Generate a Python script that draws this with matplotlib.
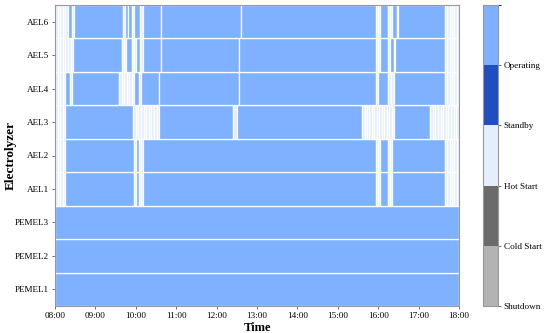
import matplotlib
matplotlib.use("Agg")
import matplotlib.pyplot as plt
from matplotlib.colors import ListedColormap, BoundaryNorm
from matplotlib.cm import ScalarMappable
import numpy as np

plt.rcParams['font.family'] = ['Liberation Serif', 'DejaVu Serif']

# States: 0 Shutdown, 1 Cold Start, 2 Hot Start, 3 Standby, 4 Operating
state_names = ["Shutdown", "Cold Start", "Hot Start", "Standby", "Operating"]
state_colors = ["#b3b3b3", "#6b6b6b", "#e3eeff", "#1f4fbf", "#7eb1ff"]

rows = ["PEMEL1", "PEMEL2", "PEMEL3", "AEL1", "AEL2", "AEL3", "AEL4", "AEL5", "AEL6"]
hour_ticks = ["08:00", "09:00", "10:00", "11:00", "12:00", "13:00", "14:00",
              "15:00", "16:00", "17:00", "18:00"]

# Segments per electrolyzer: (start minute after 08:00, end minute, state)
PEMEL1 = [(0, 600, 4)]
PEMEL2 = [(0, 600, 4)]
PEMEL3 = [(0, 600, 4)]
AEL1 = [(0, 15, 2), (15, 118, 4), (118, 121, 2), (121, 125, 4), (125, 131, 2),
        (131, 476, 4), (476, 483, 2), (483, 494, 4), (494, 500, 2), (500, 579, 4),
        (579, 600, 2)]
AEL2 = [(0, 15, 2), (15, 118, 4), (118, 121, 2), (121, 125, 4), (125, 131, 2),
        (131, 476, 4), (476, 483, 2), (483, 494, 4), (494, 500, 2), (500, 579, 4),
        (579, 600, 2)]
AEL3 = [(0, 15, 2), (15, 116, 4), (116, 155, 2), (155, 265, 4), (265, 270, 2),
        (270, 456, 4), (456, 504, 2), (504, 557, 4), (557, 600, 2)]
AEL4 = [(0, 15, 2), (15, 22, 4), (22, 25, 2), (25, 95, 4), (95, 118, 2),
        (118, 125, 4), (125, 127, 2), (127, 154, 4), (154, 274, 4), (274, 476, 4),
        (476, 479, 2), (479, 494, 4), (494, 503, 2), (503, 579, 4), (579, 600, 2)]
AEL5 = [(0, 27, 2), (27, 100, 4), (100, 106, 2), (106, 115, 4), (115, 121, 2),
        (121, 126, 4), (126, 130, 2), (130, 157, 4), (157, 274, 4), (274, 476, 4),
        (476, 483, 2), (483, 494, 4), (494, 497, 2), (497, 503, 4), (503, 505, 2),
        (505, 579, 4), (579, 600, 2)]
AEL6 = [(0, 19, 2), (19, 25, 4), (25, 28, 2), (28, 101, 4), (101, 104, 2),
        (104, 108, 4), (108, 114, 4), (114, 118, 2), (118, 126, 4), (126, 130, 2),
        (130, 157, 4), (157, 276, 4), (276, 476, 4), (476, 483, 2), (483, 494, 4),
        (494, 501, 2), (501, 508, 4), (508, 510, 2), (510, 579, 4), (579, 600, 2)]
segments = [PEMEL1, PEMEL2, PEMEL3, AEL1, AEL2, AEL3, AEL4, AEL5, AEL6]

fig = plt.figure(figsize=(5.5, 3.33), dpi=100)
ax = fig.add_axes([55/550, 27/333, 404/550, 301/333])

cell = 3.75  # minutes per displayed start-up step
for i, segs in enumerate(segments):
    for (s, e, st) in segs:
        if st == 2:
            n = max(1, int(round((e - s) / cell)))
            edges = np.linspace(s, e, n + 1)
            for a, b in zip(edges[:-1], edges[1:]):
                ax.barh(i, (b - a) / 60, left=8 + a / 60, height=1.0,
                        color=state_colors[st], edgecolor="white", linewidth=0.9)
        else:
            ax.barh(i, (e - s) / 60, left=8 + s / 60, height=1.0,
                    color=state_colors[st], edgecolor="white", linewidth=0.9)

ax.set_xlim(8, 18)
ax.set_ylim(-0.5, len(rows) - 0.5)
ax.set_xticks(np.arange(8, 19))
ax.set_xticklabels(hour_ticks, fontsize=6.6)
ax.set_yticks(np.arange(len(rows)))
ax.set_yticklabels(rows, fontsize=6.6)
ax.tick_params(length=2.5, width=0.6, color="#555555", pad=2)
for sp in ax.spines.values():
    sp.set_color("#999999")
    sp.set_linewidth(0.8)
ax.set_xlabel("Time", fontsize=9, fontweight="bold", labelpad=1)
ax.set_ylabel("Electrolyzer", fontsize=9.5, fontweight="bold")
ax.yaxis.set_label_coords((17 - 55) / 404, 0.5)

cmap = ListedColormap(state_colors)
norm = BoundaryNorm(np.arange(0, 6), cmap.N)
cax = fig.add_axes([483/550, 27/333, 15/550, 301/333])
cb = fig.colorbar(ScalarMappable(norm=norm, cmap=cmap), cax=cax, ticks=np.arange(0, 5))
cb.set_ticklabels(state_names)
cb.ax.tick_params(labelsize=6.6, length=2, width=0.6, color="#555555", pad=2)
cb.outline.set_edgecolor("#999999")
cb.outline.set_linewidth(0.8)

fig.savefig("out.png", dpi=100)
